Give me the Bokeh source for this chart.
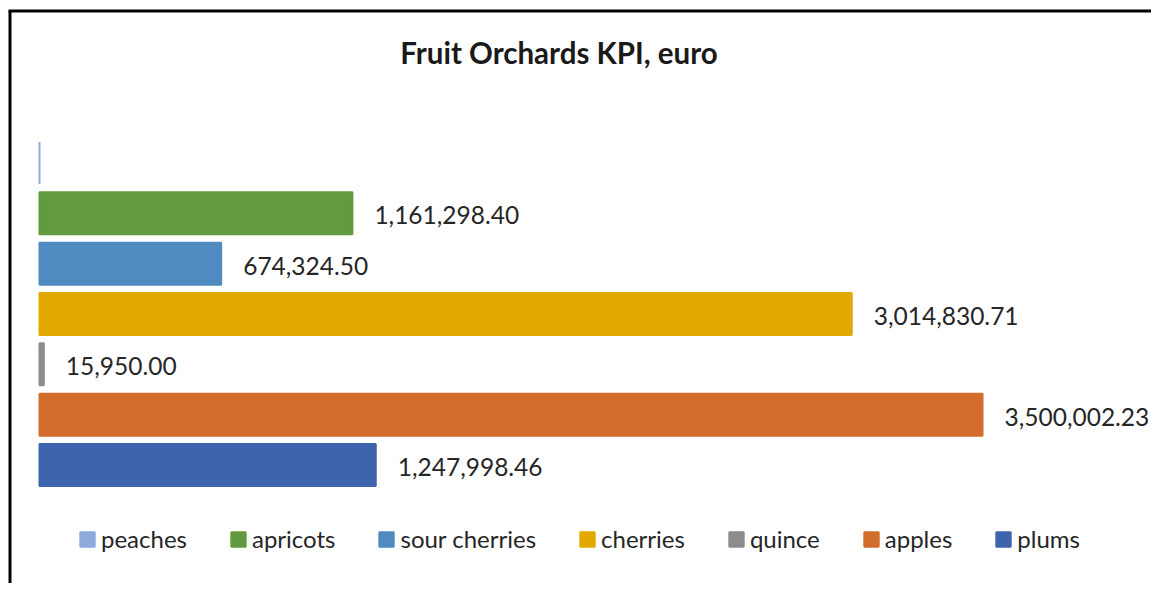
from bokeh.plotting import figure
from bokeh.models import Range1d, Legend, LegendItem, ColumnDataSource
from bokeh.core.properties import value
from bokeh.embed import file_html
from bokeh.resources import INLINE

# ---- data ----
categories = ["peaches", "apricots", "sour cherries", "cherries", "quince", "apples", "plums"]
values = [0.0, 1161298.40, 674324.50, 3014830.71, 15950.00, 3500002.23, 1247998.46]
colors = ["#8FAADC", "#619A3F", "#4F8BC0", "#E2AA00", "#8C8C8C", "#D36D2B", "#3D64AD"]
title_text = "Fruit Orchards KPI, euro"

# ---- layout ----
W, H = 1151, 583
x0_px, xend_px = 39, 982          # bar origin and longest bar end (canvas px)
ppe = (xend_px - x0_px) / max(values)
y0_px, dy_px = 162.5, 50.33       # first band centre and band spacing

def px_x(px):
    return (px - x0_px) / ppe

def px_y(py):
    return (py - y0_px) / dy_px

p = figure(width=W, height=H, output_backend="svg", toolbar_location=None,
           x_axis_location=None, y_axis_location=None, min_border=0,
           x_range=Range1d(px_x(0), px_x(W)), y_range=Range1d(px_y(H), px_y(0)))
p.grid.visible = False
p.outline_line_color = None
p.background_fill_color = "white"
p.border_fill_color = "white"

idx = list(range(len(categories)))
labels = [f"{v:,.2f}" if v > 0 else "" for v in values]
src = ColumnDataSource(dict(y=idx, v=values, c=colors, lab=labels, cat=categories))

r = p.hbar(y="y", left=0, right="v", height=42 / dy_px, fill_color="c",
           line_color="c", line_width=2, source=src)

p.text(x="v", y="y", text="lab", source=src, x_offset=22, y_offset=2,
       text_align="left", text_baseline="middle", text_font=value("Lato"),
       text_font_size="24.5px", text_color="#262626")

p.text(x=[px_x(558.5)], y=[px_y(52)], text=[title_text], text_align="center",
       text_baseline="middle", text_font=value("Lato"), text_font_style="bold",
       text_font_size="29.5px", text_color="#1a1a1a")

# chart frame (top and left edges, meeting at the corner)
fx, fy = px_x(9.5), px_y(10.5)
p.segment(x0=[fx - px_x(1.5) + px_x(0), fx], y0=[fy, fy],
          x1=[px_x(W + 10), fx], y1=[fy, px_y(H + 10)],
          line_color="black", line_width=3, line_cap="butt")

items = [LegendItem(label=c, renderers=[r], index=i) for i, c in enumerate(categories)]
leg = Legend(items=items, orientation="horizontal", location=(78, 30),
             glyph_width=18, glyph_height=18, label_standoff=5, spacing=42,
             padding=0, margin=0, label_height=24, border_line_color=None,
             background_fill_alpha=0, label_text_font="Lato",
             label_text_font_size="24px", label_text_color="#262626")
p.add_layout(leg)

open("out.html", "w").write(file_html(p, INLINE))
